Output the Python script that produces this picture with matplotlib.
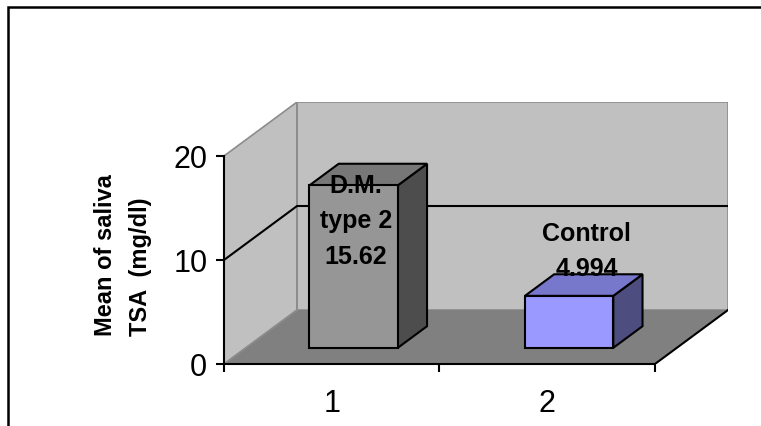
"""Excel-style 3D column chart: mean saliva TSA, D.M. type 2 vs control."""
import matplotlib

matplotlib.use("Agg")  # headless rendering
import matplotlib.pyplot as plt
from matplotlib.patches import Polygon, Rectangle

plt.rcParams["font.family"] = ["Liberation Sans", "DejaVu Sans"]

# ---------------------------------------------------------------------------
# Data
# ---------------------------------------------------------------------------
categories = ["1", "2"]
values = [15.62, 4.994]
series_names = ["D.M.\ntype 2", "Control"]
value_labels = ["15.62", "4.994"]
y_ticks = [0, 10, 20]
y_label = "Mean of saliva\nTSA  (mg/dl)"

# ---------------------------------------------------------------------------
# Style
# ---------------------------------------------------------------------------
FRONT = ["#969696", "#9999ff"]
TOP = ["#777777", "#7777cc"]
SIDE = ["#4d4d4d", "#4d4d80"]
WALL = "#c0c0c0"
FLOOR = "#808080"
WALL_EDGE = "#8c8c8c"

DX, DY = 0.339, 5.19        # full depth projected into data units
BAR_W = 0.41                # bar width in category units
BAR_D0, BAR_D1 = 0.3, 0.7   # bar front/back depth fraction
LABEL_DX = [0.011, 0.082]   # data label nudges
LABEL_DY = [-1.8, 5.9]

W, H, DPI = 761, 427, 100


def proj(x, y, d):
    return (x + d * DX, y + d * DY)


def face(ax, pts, fc, ec, lw=1.5, z=1):
    ax.add_patch(Polygon([proj(*p) for p in pts], closed=True, fc=fc, ec=ec,
                         lw=lw, joinstyle="miter", zorder=z))


fig = plt.figure(figsize=(W / DPI, H / DPI), dpi=DPI)
ax = fig.add_axes([224 / W, (H - 365) / H, (728 - 224) / W, (365 - 103) / H])
ax.set_xlim(0.5, 2.5 + DX)
ax.set_ylim(0, y_ticks[-1] + DY)
ax.patch.set_visible(False)

x_lo, x_hi = 0.5, len(categories) + 0.5
top = y_ticks[-1]

# walls and floor
face(ax, [(x_lo, 0, 0), (x_lo, 0, 1), (x_lo, top, 1), (x_lo, top, 0)], WALL, WALL_EDGE, 1.2)
face(ax, [(x_lo, 0, 1), (x_hi, 0, 1), (x_hi, top, 1), (x_lo, top, 1)], WALL, WALL_EDGE, 1.2)
face(ax, [(x_lo, 0, 0), (x_hi, 0, 0), (x_hi, 0, 1), (x_lo, 0, 1)], FLOOR, "none", 0)
ax.plot(*zip(proj(x_lo, 0, 0), proj(x_lo, 0, 1)), color=WALL_EDGE, lw=1.2, zorder=1.5)
ax.plot(*zip(proj(x_hi, 0, 0), proj(x_hi, 0, 1)), color="black", lw=1.5, zorder=1.5)
ax.plot(*zip(proj(x_lo, 0, 1), proj(x_lo, top, 1)), color=WALL_EDGE, lw=1.2, zorder=1.5)

# gridlines on side and back wall
for t in y_ticks[1:-1]:
    pts = [proj(x_lo, t, 0), proj(x_lo, t, 1), proj(x_hi, t, 1)]
    ax.plot(*zip(*pts), color="black", lw=1.5, zorder=1.6)

# bars
for i, v in enumerate(values):
    c = i + 1
    x0, x1 = c - BAR_W / 2, c + BAR_W / 2
    d0, d1 = BAR_D0, BAR_D1
    face(ax, [(x1, 0, d0), (x1, 0, d1), (x1, v, d1), (x1, v, d0)], SIDE[i], "black", z=3)
    face(ax, [(x0, v, d0), (x1, v, d0), (x1, v, d1), (x0, v, d1)], TOP[i], "black", z=3)
    face(ax, [(x0, 0, d0), (x1, 0, d0), (x1, v, d0), (x0, v, d0)], FRONT[i], "black", z=3)
    ax.text(c + d0 * DX + LABEL_DX[i], v + LABEL_DY[i],
            f"{series_names[i]}\n{value_labels[i]}", ha="center", va="center",
            fontsize=18, fontweight="bold", linespacing=1.6, zorder=5)

# axes
for s in ("top", "right"):
    ax.spines[s].set_visible(False)
ax.spines["left"].set_bounds(0, top)
ax.spines["bottom"].set_bounds(x_lo, x_hi)
for s in ("left", "bottom"):
    ax.spines[s].set_linewidth(1.5)
    ax.spines[s].set_zorder(4)

ax.set_yticks(y_ticks)
ax.tick_params(axis="y", labelsize=22, length=6, width=1.5, pad=6)
ax.set_xticks([x_lo + k for k in range(len(categories) + 1)])
ax.set_xticklabels([])
ax.set_xticks(range(1, len(categories) + 1), minor=True)
ax.set_xticklabels(categories, minor=True)
ax.tick_params(axis="x", which="major", length=6, width=1.5)
ax.tick_params(axis="x", which="minor", length=0, labelsize=22, pad=17)

ax.set_ylabel(y_label, fontsize=17, fontweight="bold", ha="center", va="center",
              multialignment="left", linespacing=1.65)
ax.yaxis.set_label_coords((123 - 224) / (728 - 224), (365 - 255) / (365 - 103))

# outer chart frame (right and bottom edges fall outside the picture)
fig.patches.append(Rectangle((8 / W, -1), 2, 2 - 8 / H, transform=fig.transFigure,
                             fill=False, ec="black", lw=1.8, zorder=10))

fig.savefig("out.png", dpi=DPI)
plt.close(fig)
